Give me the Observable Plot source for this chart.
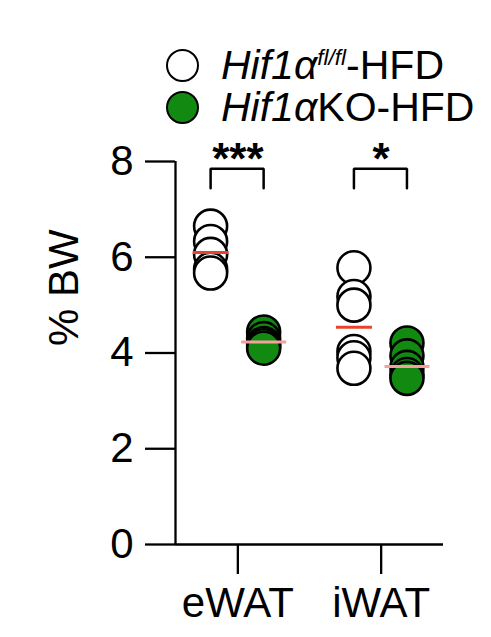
<!DOCTYPE html>
<html>
<head>
<meta charset="utf-8">
<script src="https://cdn.jsdelivr.net/npm/d3@7"></script>
<script src="https://cdn.jsdelivr.net/npm/@observablehq/plot@0.6"></script>
<style>
  html, body { margin: 0; padding: 0; background: white; }
  body { width: 491px; height: 637px; overflow: hidden; font-family: "Liberation Sans", Arial, sans-serif; color: black; }
  #legend { height: 128px; box-sizing: border-box; padding-top: 44px; padding-left: 166px; }
  .row { display: flex; align-items: center; height: 42px; line-height: 42px; font-size: 41px; white-space: nowrap; }
  .sw { width: 33px; height: 33px; box-sizing: border-box; border: 2.5px solid black; border-radius: 50%; margin-right: 22px; flex: none; }
  .row sup { font-size: 0.55em; line-height: 0; vertical-align: 0.62em; }
  #chart svg { display: block; }
</style>
</head>
<body>
<div id="legend"></div>
<div id="chart"></div>
<script>
// ---- data ----
const tissues = ["eWAT", "iWAT"];
const groups = ["fl/fl", "KO"];
const eWAT_flfl = [6.65, 6.33, 6.06, 5.75, 5.67];
const eWAT_KO   = [4.44, 4.30, 4.20, 4.15, 4.10];
const iWAT_flfl = [5.78, 5.18, 5.00, 4.03, 3.90, 3.68];
const iWAT_KO   = [4.21, 3.94, 3.70, 3.55, 3.47];
const mean_flfl = [6.10, 4.54];
const mean_KO   = [4.23, 3.72];
const stars = ["***", "*"];
const bracketLow = 7.44, bracketHigh = 7.85, starBase = 7.74;
const yTicks = [0, 2, 4, 6, 8];
const legendLabels = ['<i>Hif1α</i><sup><i>fl/fl</i></sup>-HFD', '<i>Hif1α</i>KO-HFD'];

const colors = {"fl/fl": "white", "KO": "#128a12"};
const meanColors = {"fl/fl": "#e8432f", "KO": "#f3a29b"};
const offset = {"fl/fl": -0.19, "KO": 0.18};

// ---- legend ----
document.getElementById("legend").innerHTML = groups.map((g, i) =>
  `<div class="row"><span class="sw" style="background:${colors[g]}"></span><span>${legendLabels[i]}</span></div>`
).join("");

// ---- tables ----
const series = {"eWAT|fl/fl": eWAT_flfl, "eWAT|KO": eWAT_KO, "iWAT|fl/fl": iWAT_flfl, "iWAT|KO": iWAT_KO};
const points = [];
tissues.forEach((t, i) => groups.forEach(g => {
  series[t + "|" + g].forEach(v => points.push({tissue: t, group: g, x: i + offset[g], value: v}));
}));
const means = [];
tissues.forEach((t, i) => {
  means.push({tissue: t, group: "fl/fl", x: i + offset["fl/fl"], value: mean_flfl[i]});
  means.push({tissue: t, group: "KO", x: i + offset["KO"], value: mean_KO[i]});
});
const brackets = [];
tissues.forEach((t, i) => {
  const a = i + offset["fl/fl"], b = i + offset["KO"];
  brackets.push({tissue: t, x: a, y: bracketLow}, {tissue: t, x: a, y: bracketHigh},
                {tissue: t, x: b, y: bracketHigh}, {tissue: t, x: b, y: bracketLow});
});
const starRows = tissues.map((t, i) => ({tissue: t, x: i, y: starBase, label: stars[i]}));

const hline = {draw(ctx, size) { const r = Math.sqrt(size / Math.PI); ctx.moveTo(-r, 0); ctx.lineTo(r, 0); }};
const xDomain = [-0.435, 1.435];
const font = "'Liberation Sans', Arial, sans-serif";

const plot = Plot.plot({
  width: 491,
  height: 509,
  marginTop: 33,
  marginBottom: 93,
  marginLeft: 175,
  marginRight: 48,
  style: {fontFamily: font, color: "black", background: "white", overflow: "visible"},
  x: {domain: xDomain, label: null},
  y: {domain: [0, 8], label: null},
  marks: [
    Plot.axisY({ticks: yTicks, tickSize: 30, tickPadding: 12, fontSize: 42, strokeWidth: 2.3, label: null}),
    Plot.axisX({ticks: [0, 1], tickFormat: i => tissues[i], tickSize: 30, tickPadding: 13, fontSize: 42, strokeWidth: 2.3, label: null}),
    Plot.ruleX([xDomain[0]], {y1: 0, y2: 8, stroke: "black", strokeWidth: 2.3}),
    Plot.ruleY([0], {stroke: "black", strokeWidth: 2.3}),
    Plot.text(["% BW"], {frameAnchor: "left", rotate: -90, dx: -111, dy: -7, fontSize: 42, fill: "black"}),
    ...groups.map(g => Plot.dot(points.filter(d => d.group === g), {x: "x", y: "value", r: 16.5, fill: colors[g], stroke: "black", strokeWidth: 2.6})),
    ...groups.map(g => Plot.dot(means.filter(d => d.group === g), {x: "x", y: "value", symbol: hline, r: g === "KO" ? 22.5 : 18, stroke: meanColors[g], strokeWidth: 3, fill: "none"})),
    Plot.line(brackets, {x: "x", y: "y", z: "tissue", stroke: "black", strokeWidth: 2.5, strokeLinejoin: "miter"}),
    Plot.text(starRows, {x: "x", y: "y", text: "label", lineAnchor: "bottom", fontSize: 44, fontWeight: "bold", fill: "black"})
  ]
});
document.getElementById("chart").appendChild(plot);
</script>
</body>
</html>
